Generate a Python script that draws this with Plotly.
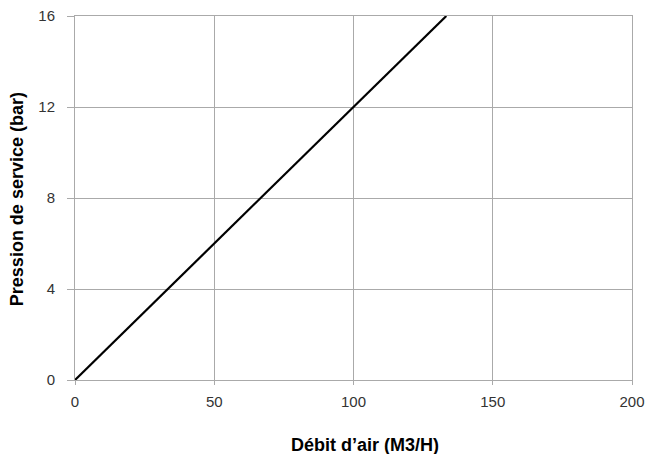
import plotly.graph_objects as go

debit = [0, 133.33]
pression = [0, 16]
x_ticks = [0, 50, 100, 150, 200]
y_ticks = [0, 4, 8, 12, 16]
x_title = "Débit d’air (M3/H)"
y_title = "Pression de service (bar)"

fig = go.Figure()
fig.add_trace(go.Scatter(x=debit, y=pression, mode="lines",
                         line=dict(color="black", width=2.2), showlegend=False))

font = "Liberation Sans, Arial, Helvetica, sans-serif"
fig.update_layout(
    width=648, height=454,
    margin=dict(l=75, r=16, t=16, b=74),
    paper_bgcolor="white", plot_bgcolor="white",
    font=dict(family=font, size=15, color="#333"),
)
fig.update_xaxes(
    range=[0, 200], tickvals=x_ticks, ticktext=[str(v) for v in x_ticks],
    showgrid=True, gridcolor="#aaaaaa", gridwidth=1,
    showline=True, linecolor="#aaaaaa", linewidth=1, mirror=True,
    ticks="outside", ticklen=4, tickcolor="#aaaaaa",
    zeroline=False, automargin=False, ticklabelstandoff=4,
)
fig.update_yaxes(
    range=[0, 16], tickvals=y_ticks, ticktext=[str(v) for v in y_ticks],
    showgrid=True, gridcolor="#aaaaaa", gridwidth=1,
    showline=True, linecolor="#aaaaaa", linewidth=1, mirror=True,
    ticks="outside", ticklen=7, tickcolor="#aaaaaa",
    zeroline=False, automargin=False, ticklabelstandoff=9,
)
fig.add_annotation(text="<b>" + x_title + "</b>", xref="paper", yref="paper",
                   x=0.5206, y=-0.1786, xanchor="center", yanchor="middle",
                   showarrow=False, font=dict(size=18, color="black"))
fig.add_annotation(text="<b>" + y_title + "</b>", xref="paper", yref="paper",
                   x=-0.104, y=0.497, xanchor="center", yanchor="middle",
                   textangle=-90, showarrow=False, font=dict(size=18, color="black"))
fig.write_html("out.html", config={"displayModeBar": False},
               post_script="document.body.style.margin='0';document.body.style.overflow='hidden';")
